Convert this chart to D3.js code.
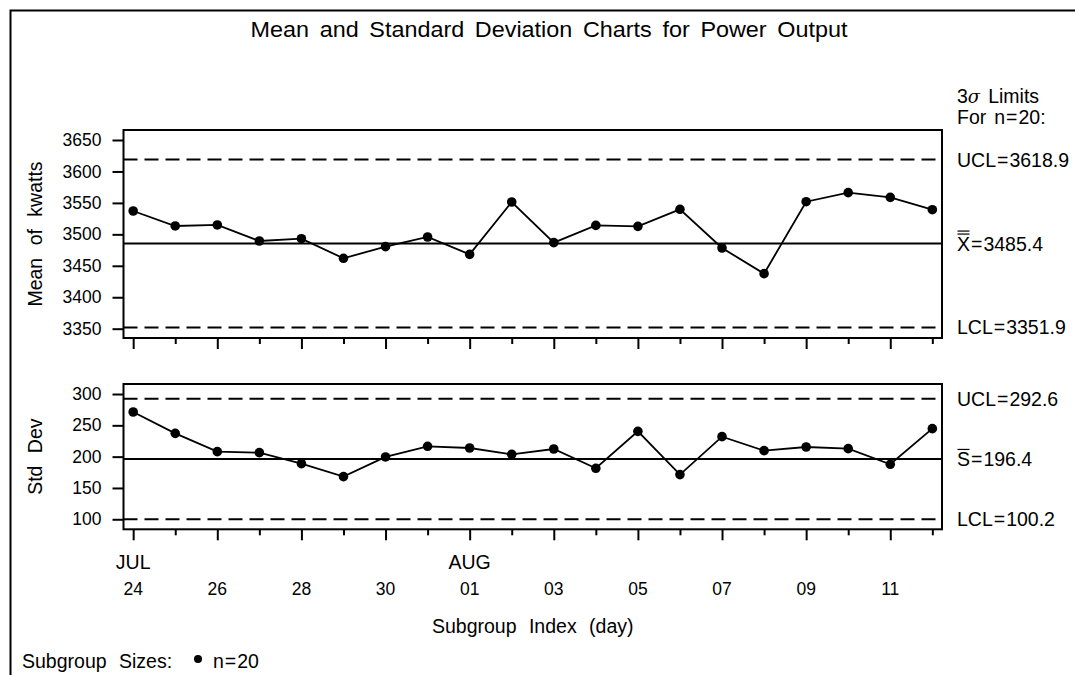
<!DOCTYPE html>
<html>
<head>
<meta charset="utf-8">
<script src="https://cdn.jsdelivr.net/npm/d3@7"></script>
<style>
  body { margin: 0; background: #fff; }
  svg { display: block; font-family: "Liberation Sans", Arial, sans-serif; }
  text { fill: #000; }
</style>
</head>
<body>
<svg id="chart" width="1075" height="675"></svg>
<script>
// subgroup index labels (one per day)
var days = ['24','25','26','27','28','29','30','31','01','02','03','04','05','06','07','08','09','10','11','12'];
var months = { 0: 'JUL', 8: 'AUG' };

// subgroup means (kwatts) and std devs, n = 20
var means = [3537.1, 3513.3, 3514.9, 3489.4, 3493.1, 3461.9, 3480.4, 3495.8, 3468.2, 3551.4,
             3486.8, 3514.3, 3512.7, 3539.8, 3478.3, 3437.5, 3551.9, 3566.3, 3558.8, 3539.2];
var stds  = [271.3, 237.2, 208.0, 206.4, 188.8, 168.1, 199.5, 216.5, 213.8, 203.7,
             212.2, 181.4, 240.4, 171.3, 231.9, 209.6, 215.4, 212.8, 187.8, 244.7];

// control limits
var meanLimits = { ucl: 3618.9, center: 3485.4, lcl: 3351.9 };
var stdLimits  = { ucl: 292.6, center: 196.4, lcl: 100.2 };

var meanTicks = [3350, 3400, 3450, 3500, 3550, 3600, 3650];
var stdTicks  = [100, 150, 200, 250, 300];

var svg = d3.select('#chart');
var FS = 19.5;   // labels
var TFS = 17.5;  // tick numbers
var WS = 7;      // SAS puts double spaces between words

// page border (top + left only, as in the original page)
svg.append('path')
    .attr('d', 'M10.5,680V10.5H1080')
    .attr('fill', 'none').attr('stroke', '#000').attr('stroke-width', 2);

svg.append('text')
    .attr('x', 549).attr('y', 37)
    .attr('text-anchor', 'middle')
    .attr('font-size', 22.5)
    .attr('word-spacing', 4)
    .attr('textLength', 597).attr('lengthAdjust', 'spacingAndGlyphs')
    .text('Mean and Standard Deviation Charts for Power Output');

var x = d3.scaleLinear().domain([-0.23, 19.23]).range([123.5, 942]);
var yMean = d3.scaleLinear().domain([3335.2, 3665.9]).range([338, 130]);
var yStd = d3.scaleLinear().domain([84, 316]).range([529.3, 384]);

function drawPanel(y, values, ticks, limits, ylab, centerSym) {
    var top = y.range()[1], bottom = y.range()[0];
    var g = svg.append('g');

    // y axis
    var ax = g.append('g')
        .attr('transform', 'translate(' + x.range()[0] + ',0)')
        .call(d3.axisLeft(y).tickValues(ticks).tickSize(11).tickPadding(11).tickFormat(d3.format('d')));
    ax.select('.domain').remove();
    ax.selectAll('line').attr('stroke-width', 2);
    ax.selectAll('text').attr('font-size', TFS).attr('font-family', null);

    // x axis ticks (major on even index)
    var xa = g.append('g')
        .attr('transform', 'translate(0,' + bottom + ')')
        .call(d3.axisBottom(x).tickValues(d3.range(days.length)).tickSize(11).tickFormat(''));
    xa.select('.domain').remove();
    xa.selectAll('.tick line')
        .attr('stroke-width', 2)
        .attr('y2', function (d) { return d % 2 === 0 ? 11 : 6; });

    // limit lines
    [limits.ucl, limits.lcl].forEach(function (v) {
        g.append('line')
            .attr('x1', x.range()[0]).attr('x2', x.range()[1])
            .attr('y1', y(v)).attr('y2', y(v))
            .attr('stroke', '#000').attr('stroke-width', 2)
            .attr('stroke-dasharray', '14,7');
    });
    g.append('line')
        .attr('x1', x.range()[0]).attr('x2', x.range()[1])
        .attr('y1', y(limits.center)).attr('y2', y(limits.center))
        .attr('stroke', '#000').attr('stroke-width', 2);

    // series
    var line = d3.line()
        .x(function (d, i) { return x(i); })
        .y(function (d) { return y(d); });
    g.append('path')
        .datum(values)
        .attr('d', line)
        .attr('fill', 'none').attr('stroke', '#000').attr('stroke-width', 1.8);
    g.selectAll('circle')
        .data(values)
        .enter().append('circle')
        .attr('cx', function (d, i) { return x(i); })
        .attr('cy', function (d) { return y(d); })
        .attr('r', 4.8).attr('fill', '#000');

    // frame
    g.append('rect')
        .attr('x', x.range()[0]).attr('y', top)
        .attr('width', x.range()[1] - x.range()[0]).attr('height', bottom - top)
        .attr('fill', 'none').attr('stroke', '#000').attr('stroke-width', 2);

    // y label
    g.append('text')
        .attr('transform', 'translate(42,' + (top + bottom) / 2 + ') rotate(-90)')
        .attr('text-anchor', 'middle')
        .attr('font-size', FS).attr('word-spacing', WS)
        .text(ylab);

    // limit labels
    var lx = 957;
    function limitLabel(name, v) {
        var t = g.append('text').attr('x', lx).attr('y', y(v) + 7).attr('font-size', FS);
        t.append('tspan').text(name);
        t.append('tspan').attr('dx', 1).text('=');
        t.append('tspan').attr('dx', 1).text(v.toFixed(1));
        return t;
    }
    limitLabel('UCL', limits.ucl);
    limitLabel('LCL', limits.lcl);
    limitLabel(centerSym, limits.center);
    // bars over the center symbol
    var bars = centerSym === 'X' ? 2 : 1;
    var capTop = y(limits.center) + 7 - FS * 0.716;
    for (var b = 0; b < bars; b++) {
        g.append('line')
            .attr('x1', lx + 0.5).attr('x2', lx + 12.5)
            .attr('y1', capTop - 2.5 - b * 3).attr('y2', capTop - 2.5 - b * 3)
            .attr('stroke', '#000').attr('stroke-width', 1.2);
    }
}

drawPanel(yMean, means, meanTicks, meanLimits, 'Mean of kwatts', 'X');
drawPanel(yStd, stds, stdTicks, stdLimits, 'Std Dev', 'S');

// sigma heading
var h1 = svg.append('text').attr('x', 957).attr('y', 103).attr('font-size', FS);
h1.append('tspan').text('3');
h1.append('tspan').attr('font-style', 'italic').attr('font-family', 'DejaVu Serif').attr('font-size', 18).text('\u03c3');
h1.append('tspan').attr('dx', 8).text('Limits');
var h2 = svg.append('text').attr('x', 957).attr('y', 124).attr('font-size', FS);
h2.append('tspan').text('For');
h2.append('tspan').attr('dx', 8).text('n');
h2.append('tspan').attr('dx', 1).text('=');
h2.append('tspan').attr('dx', 1).text('20:');

// x tick labels
var xl = svg.append('g');
days.forEach(function (d, i) {
    if (i % 2 !== 0) return;
    xl.append('text')
        .attr('x', x(i)).attr('y', 595)
        .attr('text-anchor', 'middle').attr('font-size', TFS)
        .text(d);
    if (months[i]) {
        xl.append('text')
            .attr('x', x(i)).attr('y', 569)
            .attr('text-anchor', 'middle').attr('font-size', FS)
            .text(months[i]);
    }
});
svg.append('text')
    .attr('x', (x.range()[0] + x.range()[1]) / 2).attr('y', 633)
    .attr('text-anchor', 'middle').attr('font-size', FS)
    .attr('word-spacing', WS)
    .text('Subgroup Index (day)');

// legend
svg.append('text').attr('x', 22).attr('y', 668).attr('font-size', FS)
    .attr('word-spacing', WS).text('Subgroup Sizes:');
svg.append('circle').attr('cx', 198).attr('cy', 659).attr('r', 4).attr('fill', '#000');
var lg = svg.append('text').attr('x', 213).attr('y', 668).attr('font-size', FS);
lg.append('tspan').text('n');
lg.append('tspan').attr('dx', 1).text('=');
lg.append('tspan').attr('dx', 1).text('20');
</script>
</body>
</html>
